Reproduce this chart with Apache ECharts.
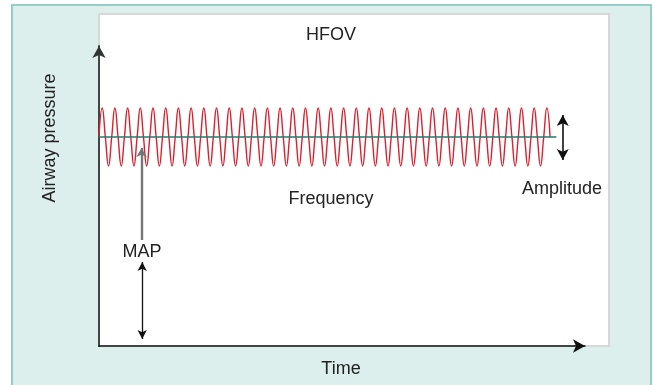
<!DOCTYPE html>
<html>
<head>
<meta charset="utf-8">
<script src="https://cdn.jsdelivr.net/npm/echarts@6/dist/echarts.min.js"></script>
<style>
  html, body { margin: 0; padding: 0; background: #fff; }
  #hfov-chart { width: 653px; height: 385px; }
</style>
</head>
<body>
<div id="hfov-chart"></div>
<script>
// HFOV 压力波形示意图
var meanPressure = 209;   // MAP 基线
// 气道压力采样（每 1/4 周期一个点），读自原图
var pressure = [
  209, 238, 209, 180, 209, 238, 209, 180, 209, 238, 209, 180, 209, 238, 209, 180, 209, 238, 209, 180,
  209, 238, 209, 180, 209, 238, 209, 180, 209, 238, 209, 180, 209, 238, 209, 180, 209, 238, 209, 180,
  209, 238, 209, 180, 209, 238, 209, 180, 209, 238, 209, 180, 209, 238, 209, 180, 209, 238, 209, 180,
  209, 238, 209, 180, 209, 238, 209, 180, 209, 238, 209, 180, 209, 238, 209, 180, 209, 238, 209, 180,
  209, 238, 209, 180, 209, 238, 209, 180, 209, 238, 209, 180, 209, 238, 209, 180, 209, 238, 209, 180,
  209, 238, 209, 180, 209, 238, 209, 180, 209, 238, 209, 180, 209, 238, 209, 180, 209, 238, 209, 180,
  209, 238, 209, 180, 209, 238, 209, 180, 209, 238, 209, 180, 209, 238, 209, 180, 209, 238, 209, 180,
  209, 238, 209
];
var baselineEnd = 144;
// 标注箭头 [时间, 压力起, 压力止]
var amplitudeArrow = [146, 186, 231];
var mapPointer = [13.4, 106, 198];
var mapArrow = [13.6, 7, 84];

var wavePoints = pressure.map(function (v, i) { return [i, v]; });

var myChart = echarts.init(document.getElementById('hfov-chart'));
var textFont = '18px "Liberation Sans", Arial, sans-serif';

var option = {
    animation: false,
    graphic: [
        { type: 'rect', z: -10, shape: { x: 12, y: 5, width: 639, height: 392 },
          style: { fill: '#ddefed', stroke: '#96cdc6', lineWidth: 2 } },
        { type: 'rect', z: -9, shape: { x: 99, y: 14, width: 510, height: 332 },
          style: { fill: '#ffffff', stroke: '#d6d9d9', lineWidth: 2 } },
        { type: 'text', z: 100, x: 331, y: 35,
          style: { text: 'HFOV', font: textFont, fill: '#222', align: 'center', verticalAlign: 'middle' } },
        { type: 'text', z: 100, x: 331, y: 199,
          style: { text: 'Frequency', font: textFont, fill: '#222', align: 'center', verticalAlign: 'middle' } },
        { type: 'text', z: 100, x: 562, y: 189,
          style: { text: 'Amplitude', font: textFont, fill: '#222', align: 'center', verticalAlign: 'middle' } },
        { type: 'text', z: 100, x: 142, y: 252,
          style: { text: 'MAP', font: textFont, fill: '#222', align: 'center', verticalAlign: 'middle' } },
        { type: 'text', z: 100, x: 341, y: 369,
          style: { text: 'Time', font: textFont, fill: '#222', align: 'center', verticalAlign: 'middle' } },
        { type: 'text', z: 100, x: 50, y: 138, rotation: Math.PI / 2,
          style: { text: 'Airway pressure', font: textFont, fill: '#222', align: 'center', verticalAlign: 'middle' } }
    ],
    grid: { left: 99, right: 68, top: 46, bottom: 39 },
    xAxis: {
        type: 'value', min: 0, max: 153,
        axisLine: { onZero: false, symbol: ['none', 'arrow'], symbolSize: [10, 12],
                    lineStyle: { color: '#111', width: 1.5 } },
        axisTick: { show: false }, axisLabel: { show: false }, splitLine: { show: false }
    },
    yAxis: {
        type: 'value', min: 0, max: 300,
        axisLine: { show: true, onZero: false, symbol: ['none', 'arrow'], symbolSize: [10, 12],
                    lineStyle: { color: '#333', width: 1.8 } },
        axisTick: { show: false }, axisLabel: { show: false }, splitLine: { show: false }
    },
    series: [
        {
            name: 'Airway pressure',
            type: 'line',
            data: wavePoints,
            smooth: 0.5,
            showSymbol: false,
            lineStyle: { color: '#dc1f2b', width: 1.4 },
            z: 3
        },
        {
            name: 'MAP',
            type: 'line',
            data: [[0, meanPressure], [baselineEnd, meanPressure]],
            showSymbol: false,
            lineStyle: { color: '#1e7b70', width: 1.3 },
            z: 4,
            markLine: {
                silent: true,
                label: { show: false },
                emphasis: { disabled: true },
                data: [
                    [
                        { coord: [amplitudeArrow[0], amplitudeArrow[1]], symbol: 'arrow', symbolSize: [9, 11] },
                        { coord: [amplitudeArrow[0], amplitudeArrow[2]], symbol: 'arrow', symbolSize: [9, 11],
                          lineStyle: { color: '#111', width: 1.6, type: 'solid' } }
                    ],
                    [
                        { coord: [mapPointer[0], mapPointer[1]], symbol: 'none' },
                        { coord: [mapPointer[0], mapPointer[2]], symbol: 'arrow', symbolSize: [8, 9] },
                    ].map(function (p, i) {
                        return i ? Object.assign(p, { lineStyle: { color: '#777', width: 2.4, type: 'solid' } }) : p;
                    }),
                    [
                        { coord: [mapArrow[0], mapArrow[1]], symbol: 'arrow', symbolSize: [7, 9] },
                        { coord: [mapArrow[0], mapArrow[2]], symbol: 'arrow', symbolSize: [7, 9],
                          lineStyle: { color: '#111', width: 1.3, type: 'solid' } }
                    ]
                ]
            }
        }
    ]
};
myChart.setOption(option);
</script>
</body>
</html>
